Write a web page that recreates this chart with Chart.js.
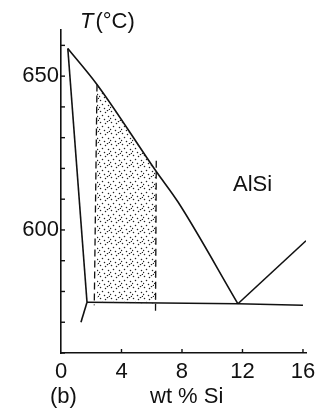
<!DOCTYPE html>
<html><head><meta charset="utf-8">
<script src="https://cdn.jsdelivr.net/npm/chart.js@4"></script>
<style>html,body{margin:0;padding:0;background:#fff}#wrap{width:322px;height:414px;position:relative}</style>
</head><body><div id="wrap"><canvas id="c" width="322" height="414"></canvas></div>
<script>
// ---- data (wt % Si, temperature °C) ----
const liquidusX = [0.45, 2.38, 6.3, 7.75, 11.7];
const liquidusT = [659, 647.3, 619, 609, 576];
const hyperLiquidusX = [11.7, 16.2];
const hyperLiquidusT = [576, 596.5];
const solidusX = [0.45, 1.72];
const solidusT = [659, 576.5];
const solvusX = [1.72, 1.32];
const solvusT = [576.5, 570];
const eutecticX = [1.72, 11.7, 16.0];
const eutecticT = [576.5, 576, 575.5];
const leftDashX = [2.38, 2.2];
const leftDashT = [647.3, 575.5];
const rightDashX = [6.3, 6.25];
const rightDashT = [622.5, 573.3];
const regionTopX = [2.38, 6.3];
const regionTopT = [647.3, 619];
const regionBotX = [2.3, 6.3];
const regionBotT = [576.4, 576.1];
const xTickValues = [0, 4, 8, 12, 16];
const yTickValues = [560, 570, 580, 590, 600, 610, 620, 630, 640, 650, 660];
const yLabelled = [600, 650];

const pts = (xs, ys) => xs.map((x, i) => ({x: x, y: ys[i]}));

// stipple pattern
const tile = document.createElement('canvas');
tile.width = 11; tile.height = 11;
const tc = tile.getContext('2d');
tc.fillStyle = '#222';
[[1,1],[6,2],[3,5],[9,6],[0,8],[5,9],[8,0],[10,10]].forEach(p => { tc.beginPath(); tc.arc(p[0]+0.5, p[1]+0.5, 0.75, 0, Math.PI*2); tc.fill(); });
const stipple = document.getElementById('c').getContext('2d').createPattern(tile, 'repeat');

const lineDs = (xs, ys, extra) => Object.assign({data: pts(xs, ys), showLine: true, borderColor: '#111', borderWidth: 1.6, pointRadius: 0, fill: false, tension: 0}, extra || {});

const decor = {
  id: 'decor',
  afterDraw(chart) {
    const ctx = chart.ctx, xs = chart.scales.x, ys = chart.scales.y, a = chart.chartArea;
    ctx.save();
    ctx.strokeStyle = '#111'; ctx.lineWidth = 1.4;
    yTickValues.forEach(v => { const py = ys.getPixelForValue(v); ctx.beginPath(); ctx.moveTo(a.left, py); ctx.lineTo(a.left + 4, py); ctx.stroke(); });
    xTickValues.slice(1).forEach(v => { const px = xs.getPixelForValue(v); ctx.beginPath(); ctx.moveTo(px, a.bottom); ctx.lineTo(px, a.bottom - 4); ctx.stroke(); });
    ctx.fillStyle = '#111';
    ctx.textBaseline = 'middle';
    ctx.font = 'italic 22px "Liberation Sans"';
    ctx.textAlign = 'left';
    ctx.fillText('T', 80, 22);
    const tw = ctx.measureText('T').width;
    ctx.font = '22px "Liberation Sans"';
    ctx.fillText('(°C)', 80 + tw + 2, 22);
    ctx.fillText('AlSi', 233, 185);
    ctx.fillText('(b)', 50, 397);
    ctx.fillText('wt % Si', 150, 397);
    ctx.restore();
  }
};

new Chart(document.getElementById('c'), {
  type: 'scatter',
  data: {datasets: [
    lineDs(regionTopX, regionTopT, {borderWidth: 0, borderColor: 'rgba(0,0,0,0)', fill: '+1', backgroundColor: stipple}),
    lineDs(regionBotX, regionBotT, {borderWidth: 0, borderColor: 'rgba(0,0,0,0)'}),
    lineDs(liquidusX, liquidusT, {cubicInterpolationMode: 'monotone'}),
    lineDs(hyperLiquidusX, hyperLiquidusT),
    lineDs(solidusX, solidusT),
    lineDs(solvusX, solvusT),
    lineDs(eutecticX, eutecticT),
    lineDs(leftDashX, leftDashT, {borderDash: [7, 4], borderWidth: 1.3}),
    lineDs(rightDashX, rightDashT, {borderDash: [7, 4], borderWidth: 1.3})
  ]},
  options: {
    responsive: false, animation: false, devicePixelRatio: 1,
    layout: {padding: {top: 30, right: 16, left: 0, bottom: 0}},
    plugins: {legend: {display: false}, tooltip: {enabled: false}},
    scales: {
      x: {type: 'linear', min: 0, max: 16.2,
        afterBuildTicks: s => { s.ticks = xTickValues.map(v => ({value: v})); },
        afterFit: s => { s.height = 61; },
        grid: {drawOnChartArea: false, drawTicks: false},
        border: {display: true, color: '#111', width: 1.6},
        ticks: {color: '#111', font: {family: 'Liberation Sans', size: 22}, padding: 6, maxRotation: 0, autoSkip: false}
      },
      y: {type: 'linear', min: 560, max: 665,
        afterBuildTicks: s => { s.ticks = yTickValues.map(v => ({value: v})); },
        afterFit: s => { s.width = 61; },
        grid: {drawOnChartArea: false, drawTicks: false},
        border: {display: true, color: '#111', width: 1.6},
        ticks: {color: '#111', font: {family: 'Liberation Sans', size: 22}, padding: 2, autoSkip: false,
          callback: v => yLabelled.includes(v) ? String(v) : ''}
      }
    }
  },
  plugins: [decor]
});
</script></body></html>
